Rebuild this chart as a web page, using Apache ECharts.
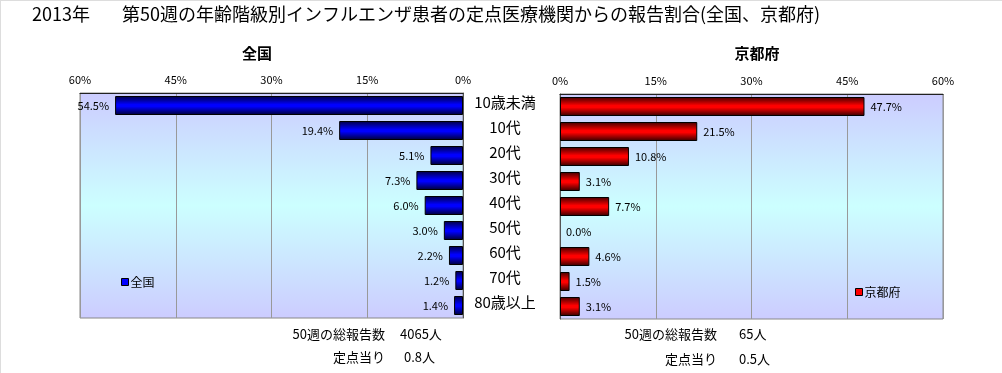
<!DOCTYPE html>
<html><head><meta charset="utf-8">
<script src="https://cdn.jsdelivr.net/npm/echarts@6/dist/echarts.min.js"></script>
<style>html,body{margin:0;padding:0;background:#fff;}#c{width:1002px;height:373px;}</style>
</head><body><div id="c"></div>
<script>
const categories = ['10歳未満','10代','20代','30代','40代','50代','60代','70代','80歳以上'];
const nationalValues = [54.5, 19.4, 5.1, 7.3, 6.0, 3.0, 2.2, 1.2, 1.4];
const kyotoValues = [47.7, 21.5, 10.8, 3.1, 7.7, 0.0, 4.6, 1.5, 3.1];
const axisTicks = [0, 15, 30, 45, 60];
const titleYear = '2013年';
const titleMain = '第50週の年齢階級別インフルエンザ患者の定点医療機関からの報告割合(全国、京都府)';
const nationalTotal = '4065人';
const nationalPerPoint = '0.8人';
const kyotoTotal = '65人';
const kyotoPerPoint = '0.5人';

const FONT = '"Noto Sans CJK JP", "Noto Sans", sans-serif';
const chart = echarts.init(document.getElementById('c'));
const mkBg = () => new echarts.graphic.LinearGradient(0,0,0,1,[
  {offset:0,color:'#ccccff'},{offset:0.5,color:'#ccffff'},{offset:1,color:'#ccccff'}]);
const blueGrad = new echarts.graphic.LinearGradient(0,0,0,1,[
  {offset:0,color:'#000040'},{offset:0.45,color:'#0000ff'},{offset:0.55,color:'#0000ff'},{offset:1,color:'#000033'}]);
const redGrad = new echarts.graphic.LinearGradient(0,0,0,1,[
  {offset:0,color:'#400000'},{offset:0.45,color:'#ff0000'},{offset:0.55,color:'#ff0000'},{offset:1,color:'#330000'}]);

const toItems = arr => arr.map(v => v === 0 ? {value:v, itemStyle:{borderWidth:0}} : v);

const xAxisCommon = {
  type:'value', min:axisTicks[0], max:axisTicks[axisTicks.length-1], interval:15, position:'top',
  axisLine:{show:true, onZero:false, lineStyle:{color:'#222', width:1}},
  axisTick:{show:false},
  splitLine:{show:true, lineStyle:{color:'#999', width:1}},
  axisLabel:{formatter:'{value}%', fontSize:11, color:'#000', fontFamily:FONT, margin:8}
};

chart.setOption({
  animation:false,
  textStyle:{fontFamily:FONT},
  title:[
    {text:titleYear, left:27, top:0, textStyle:{fontSize:18, fontWeight:'normal', color:'#000', fontFamily:FONT}},
    {text:titleMain, left:117, top:0, textStyle:{fontSize:18, fontWeight:'normal', color:'#000', fontFamily:FONT}},
    {text:'全国', left:252, top:41, textAlign:'center', textStyle:{fontSize:15, fontWeight:'bold', color:'#000', fontFamily:FONT}},
    {text:'京都府', left:752, top:41, textAlign:'center', textStyle:{fontSize:15, fontWeight:'bold', color:'#000', fontFamily:FONT}}
  ],
  legend:[
    {left:116, top:271, itemWidth:7, itemHeight:7, itemGap:2, icon:'rect',
     textStyle:{fontSize:12, color:'#000', fontFamily:FONT, padding:[0,0,0,-3]},
     data:[{name:'全国', itemStyle:{color:'#0000ff', borderColor:'#000', borderWidth:1}}]},
    {left:850, top:281, itemWidth:7, itemHeight:7, itemGap:2, icon:'rect',
     textStyle:{fontSize:12, color:'#000', fontFamily:FONT, padding:[0,0,0,-3]},
     data:[{name:'京都府', itemStyle:{color:'#ff0000', borderColor:'#000', borderWidth:1}}]}
  ],
  grid:[
    {left:80, top:93, width:383, height:225, show:true, backgroundColor:mkBg(), borderColor:'#888', borderWidth:1},
    {left:560, top:94, width:383, height:225, show:true, backgroundColor:mkBg(), borderColor:'#888', borderWidth:1}
  ],
  xAxis:[
    Object.assign({}, xAxisCommon, {gridIndex:0, inverse:true}),
    Object.assign({}, xAxisCommon, {gridIndex:1})
  ],
  yAxis:[
    {type:'category', gridIndex:0, data:categories, inverse:true, position:'right',
     axisLine:{show:true, onZero:false, lineStyle:{color:'#555'}}, axisTick:{show:false},
     axisLabel:{align:'center', margin:42, color:'#000', fontFamily:FONT,
       formatter:'{a|{value}}', rich:{a:{fontSize:15, color:'#000', fontFamily:FONT, padding:[0,0,7,0]}}}},
    {type:'category', gridIndex:1, data:categories, inverse:true, position:'left',
     axisLine:{show:true, onZero:false, lineStyle:{color:'#555'}}, axisTick:{show:false},
     axisLabel:{show:false}}
  ],
  series:[
    {name:'全国', type:'bar', xAxisIndex:0, yAxisIndex:0, data:toItems(nationalValues), barWidth:19,
     itemStyle:{color:blueGrad, borderColor:'#000', borderWidth:1},
     label:{show:true, position:'left', distance:6, formatter:p=>p.value.toFixed(1)+'%', fontSize:11, color:'#000', fontFamily:FONT}},
    {name:'京都府', type:'bar', xAxisIndex:1, yAxisIndex:1, data:toItems(kyotoValues), barWidth:19,
     itemStyle:{color:redGrad, borderColor:'#000', borderWidth:1},
     label:{show:true, position:'right', distance:6, formatter:p=>p.value.toFixed(1)+'%', fontSize:11, color:'#000', fontFamily:FONT}}
  ],
  graphic:[
    {type:'line', shape:{x1:0, y1:0.5, x2:1002, y2:0.5}, style:{stroke:'#ddd', lineWidth:1}},
    {type:'line', shape:{x1:0.5, y1:0, x2:0.5, y2:373}, style:{stroke:'#ddd', lineWidth:1}},
    {type:'text', x:385, y:328, style:{text:'50週の総報告数', fontSize:13, fill:'#000', fontFamily:FONT, align:'right'}},
    {type:'text', x:400, y:328, style:{text:nationalTotal, fontSize:13, fill:'#000', fontFamily:FONT}},
    {type:'text', x:385, y:351, style:{text:'定点当り', fontSize:13, fill:'#000', fontFamily:FONT, align:'right'}},
    {type:'text', x:404, y:351, style:{text:nationalPerPoint, fontSize:13, fill:'#000', fontFamily:FONT}},
    {type:'text', x:717, y:328, style:{text:'50週の総報告数', fontSize:13, fill:'#000', fontFamily:FONT, align:'right'}},
    {type:'text', x:739, y:328, style:{text:kyotoTotal, fontSize:13, fill:'#000', fontFamily:FONT}},
    {type:'text', x:717, y:353, style:{text:'定点当り', fontSize:13, fill:'#000', fontFamily:FONT, align:'right'}},
    {type:'text', x:739, y:353, style:{text:kyotoPerPoint, fontSize:13, fill:'#000', fontFamily:FONT}}
  ]
});
</script></body></html>
